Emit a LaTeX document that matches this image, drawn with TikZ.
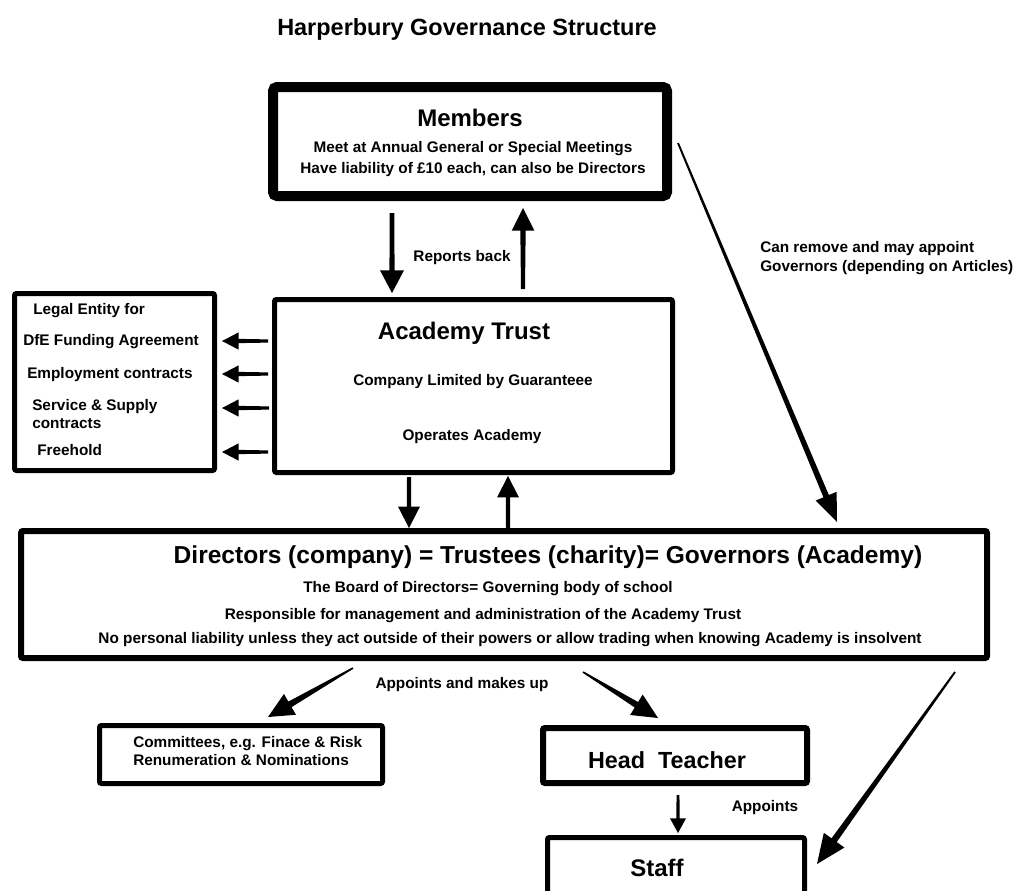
\documentclass[tikz,border=0pt]{standalone}
\usepackage{fontspec}
\setmainfont{Liberation Sans}
\usetikzlibrary{calc}
\newcommand{\taperarrow}[6]{%
  \coordinate (ta) at (#1);
  \coordinate (tb) at (#2);
  \coordinate (tc) at ($(tb)!#6!(ta)$);
  \fill ($(ta)!#3!90:(tb)$) -- ($(tc)!#4!-90:(ta)$) -- ($(tc)!#5!-90:(ta)$) -- (tb)
    -- ($(tc)!#5!90:(ta)$) -- ($(tc)!#4!90:(ta)$) -- ($(ta)!#3!-90:(tb)$) -- cycle;
}
\begin{document}
\begin{tikzpicture}[x=0.75pt,y=0.75pt,yscale=-1,
  box/.style={draw,line width=3.75pt,inner sep=0pt,rounded corners=1.5pt},
  big/.style={font=\bfseries\fontsize{18}{21}\selectfont,inner sep=0pt},
  txt/.style={font=\bfseries\fontsize{11.5}{13.5}\selectfont,inner sep=0pt}]
\useasboundingbox (0,0) rectangle (1025,890);
\clip (0,0) rectangle (1025,890);
%Boxes
\node[box,line width=7.5pt,rounded corners=3pt,minimum width=295.5pt,minimum height=81.75pt] (members) at (470,141.5) {};
\node[box,minimum width=298.5pt,minimum height=129.75pt] (trust) at (473.5,386) {};
\node[box,minimum width=150pt,minimum height=132.75pt] (legal) at (114.5,382) {};
\node[box,line width=4.5pt,minimum width=724.5pt,minimum height=95.25pt] (directors) at (504,594.5) {};
\node[box,minimum width=212.25pt,minimum height=43.5pt] (committees) at (241,754.5) {};
\node[box,line width=4.5pt,minimum width=198pt,minimum height=41.25pt] (head) at (675,755.5) {};
\node[box,minimum width=192.75pt,minimum height=60pt] (staff) at (676,877.5) {};
%Text
\node[font=\bfseries\fontsize{17.6}{20}\selectfont] (title) at (467,29) {Harperbury Governance Structure};
\node[big] (memberstitle) at (470,118) {Members};
\node[txt] (meet) at (473,149) {Meet at Annual General or Special Meetings};
\node[txt] (liability) at (473,170) {Have liability of £10 each, can also be Directors};
\node[txt] (reports) at (462,258) {Reports back};
\node[big] (trusttitle) at (464,333) {Academy Trust};
\node[txt] (company) at (473,382) {Company Limited by Guaranteee};
\node[txt] (operates) at (472,437) {Operates Academy};
\node[txt,anchor=west] (entity) at (33,311) {Legal Entity for};
\node[txt,anchor=west] (dfe) at (23,342) {DfE Funding Agreement};
\node[txt,anchor=west] (employment) at (27,375) {Employment contracts};
\node[txt,anchor=west,align=left] (service) at (32,414) {Service \& Supply\\contracts};
\node[txt,anchor=west] (freehold) at (37,450) {Freehold};
\node[big,font=\bfseries\fontsize{18.4}{21}\selectfont] (directorstitle) at (548,557) {Directors (company) = Trustees (charity)= Governors (Academy)};
\node[txt] (board) at (488,589) {The Board of Directors= Governing body of school};
\node[txt] (responsible) at (483,616) {Responsible for management and administration of the Academy Trust};
\node[txt] (personal) at (510,640) {No personal liability unless they act outside of their powers or allow trading when knowing Academy is insolvent};
\node[txt,anchor=west,align=left,font=\bfseries\fontsize{11.5}{14.25}\selectfont] (remove) at (760,258) {Can remove and may appoint\\Governors (depending on Articles)};
\node[txt] (makesup) at (462,685) {Appoints and makes up};
\node[txt,anchor=west,align=left] (committeestext) at (133,751) {Committees, e.g. Finace \& Risk\\Renumeration \& Nominations};
\node[big,font=\bfseries\fontsize{17.5}{20}\selectfont] (headtext) at (667,760) {Head\ \ Teacher};
\node[txt] (appoints) at (765,808) {Appoints};
\node[big] (stafftext) at (657,868) {Staff};
%Arrows
\taperarrow{$(members.south)+(-78,12)$}{$(trust.north)+(-81.5,-4)$}{1.8pt}{1.9pt}{9pt}{17pt}
\taperarrow{$(trust.north)+(49.5,-8)$}{$(members.south)+(53,7)$}{1.5pt}{2pt}{8.5pt}{17pt}
\taperarrow{$(trust.south)+(-64.5,2)$}{$(directors.north)+(-95,0)$}{1.5pt}{1.6pt}{8.2pt}{16pt}
\taperarrow{$(directors.north)+(4,0)$}{$(trust.south)+(34.5,1)$}{1.5pt}{1.6pt}{8.2pt}{16pt}
\taperarrow{$(trust.west)+(-4,-45)$}{$(legal.east)+(5,-41)$}{1.2pt}{1.6pt}{6.5pt}{12.5pt}
\taperarrow{$(trust.west)+(-4,-12)$}{$(legal.east)+(5,-8)$}{1.2pt}{1.6pt}{6.5pt}{12.5pt}
\taperarrow{$(trust.west)+(-3,22)$}{$(legal.east)+(5,26)$}{1.2pt}{1.6pt}{6.5pt}{12.5pt}
\taperarrow{$(trust.west)+(-4,66)$}{$(legal.east)+(5,70)$}{1.2pt}{1.6pt}{6.5pt}{12.5pt}
\taperarrow{$(members.east)+(6,1.5)$}{$(directors.north)+(333,-6)$}{0.7pt}{2.2pt}{8.5pt}{21pt}
\taperarrow{$(directors.south)+(-151,7)$}{$(committees.north)+(27,-6)$}{0.6pt}{2.4pt}{9pt}{19pt}
\taperarrow{$(directors.south)+(79,11)$}{$(head.north)+(-17,-7)$}{0.6pt}{2.4pt}{9pt}{19pt}
\taperarrow{$(head.south)+(3,9)$}{$(staff.north)+(2,-2)$}{1.1pt}{1.2pt}{6pt}{11pt}
\taperarrow{$(directors.south east)+(-35,11)$}{$(staff.north east)+(10,29)$}{0.7pt}{2.4pt}{9.5pt}{22pt}
\end{tikzpicture}
\end{document}
